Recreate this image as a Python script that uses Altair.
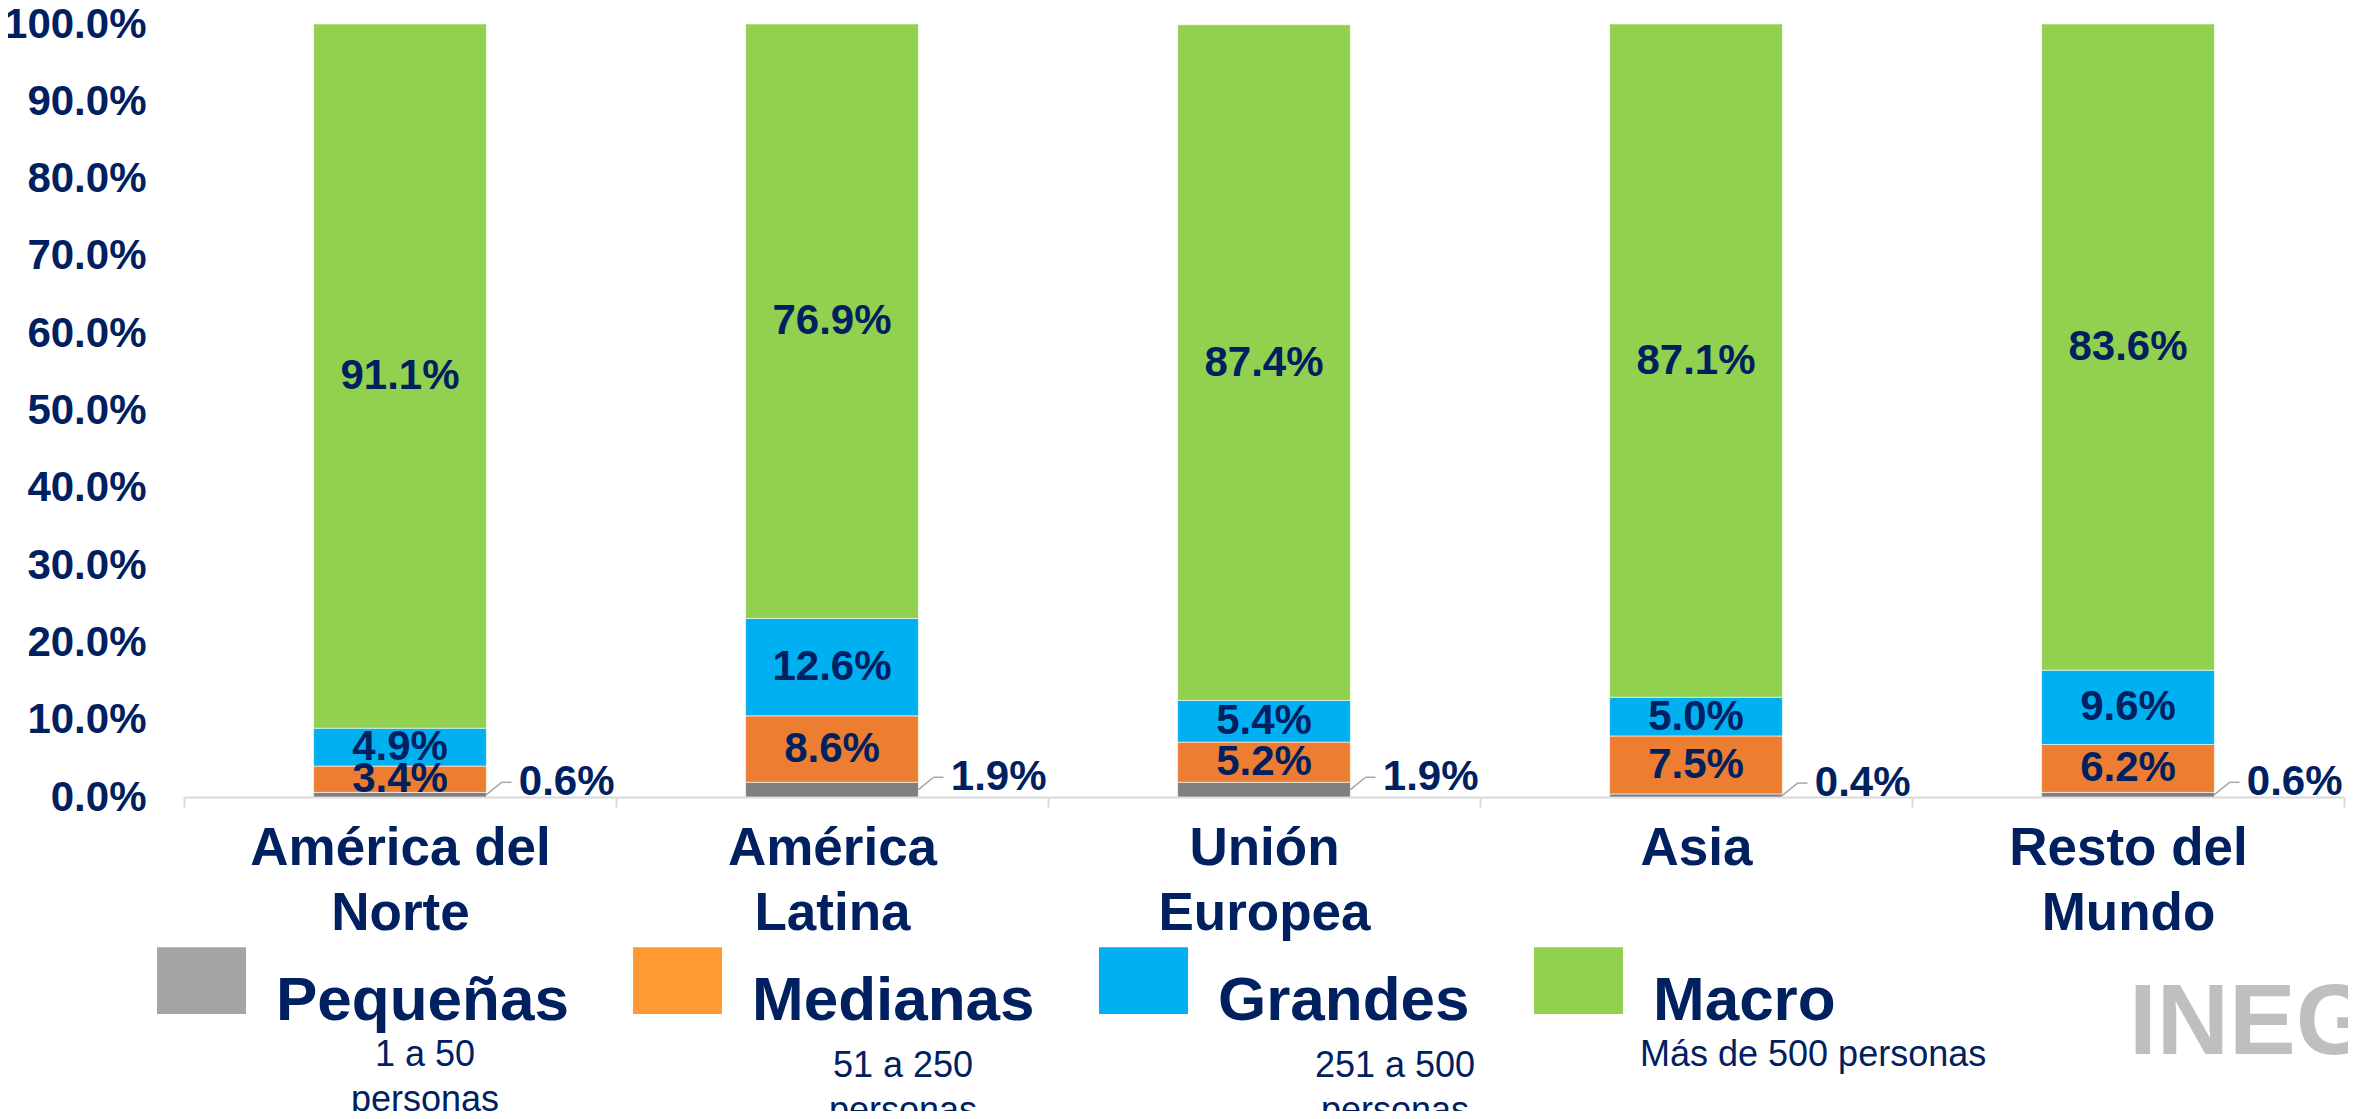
import json
import altair as alt
import pandas as pd

# ---------------- data ----------------
categories = ["América del|Norte", "América|Latina", "Unión|Europea", "Asia", "Resto del|Mundo"]
sizes = ["Pequeñas", "Medianas", "Grandes", "Macro"]
size_ranges = [["1 a 50", "personas"], ["51 a 250", "personas"], ["251 a 500", "personas"], ["Más de 500 personas"]]
pequenas = [0.6, 1.9, 1.9, 0.4, 0.6]
medianas = [3.4, 8.6, 5.2, 7.5, 6.2]
grandes = [4.9, 12.6, 5.4, 5.0, 9.6]
macro = [91.1, 76.9, 87.4, 87.1, 83.6]
y_ticks = [i / 10 for i in range(11)]
logo_text = "INEGI"

# ---------------- style ----------------
bar_colors = ["#7f7f7f", "#ed7d31", "#00b0f0", "#92d050"]
legend_colors = ["#a5a5a5", "#ff9933", "#00b0f0", "#92d050"]
NAVY = "#002060"
FONT = "Liberation Sans"
W, H = 2160, 773
band_px = W / len(categories)

rows = []
for i, cat in enumerate(categories):
    for j, (s, series) in enumerate(zip(sizes, [pequenas, medianas, grandes, macro])):
        rows.append({"cat": cat, "idx": i, "size": s, "order": j, "value": series[i] / 100})
df = pd.DataFrame(rows)

x_scale = alt.Scale(domain=[0, len(categories)], nice=False, zero=False)
y_scale = alt.Scale(domain=[0, 1], nice=False)

n = len(categories)
label_expr = (
    f"datum.value < {n} ? split({json.dumps(categories, ensure_ascii=False)}[datum.value], '|') : ''"
)

x_axis = alt.Axis(
    values=list(range(n + 1)), labelExpr=label_expr, labelOffset=band_px / 2,
    tickSize=10, tickColor="#d9d9d9", tickWidth=2, domainColor="#d9d9d9", domainWidth=2,
    grid=False, title=None, labelFont=FONT, labelFontSize=53, labelFontWeight="bold",
    labelColor=NAVY, labelLineHeight=65, labelPadding=15, labelBaseline="top",
    labelAngle=0, labelFlush=False, labelOverlap=False, labelAlign="center", labelLimit=0,
)
y_axis = alt.Axis(
    values=y_ticks, format=".1%", domain=False, ticks=False, grid=False, title=None,
    labelFont=FONT, labelFontSize=42, labelFontWeight="bold", labelColor=NAVY, labelPadding=38,
)

base = alt.Chart(df).transform_stack(
    stack="value", groupby=["idx"], as_=["y0", "y1"],
    sort=[alt.SortField("order", order="ascending")],
).transform_calculate(
    x0="datum.idx + 0.3", x1="datum.idx + 0.7", xc="datum.idx + 0.5",
    ym="(datum.y0 + datum.y1) / 2",
)

bars = base.mark_bar(stroke="white", strokeWidth=1, strokeOpacity=0.6).encode(
    x=alt.X("x0:Q", scale=x_scale, axis=x_axis),
    x2="x1:Q",
    y=alt.Y("y0:Q", scale=y_scale, axis=y_axis),
    y2="y1:Q",
    color=alt.Color("size:N", scale=alt.Scale(domain=sizes, range=bar_colors), legend=None),
)

text_props = dict(font=FONT, fontSize=42, fontWeight="bold", color=NAVY)

seg_labels = base.transform_filter("datum.order > 0").mark_text(
    align="center", baseline="middle", **text_props
).encode(
    x="xc:Q", y="ym:Q", text=alt.Text("value:Q", format=".1%"),
)

peq = base.transform_filter("datum.order == 0").transform_calculate(
    la="datum.idx + 0.7", lb="datum.idx + 0.735", lc="datum.idx + 0.758",
    lx="datum.idx + 0.775", ya="datum.y1 / 2", yb="datum.y1 / 2 + 0.016",
)
peq_text = peq.mark_text(align="left", baseline="middle", **text_props).encode(
    x="lx:Q", y="yb:Q", text=alt.Text("value:Q", format=".1%"),
)
leader_diag = peq.mark_rule(color="#a6a6a6", strokeWidth=1.5).encode(
    x="la:Q", x2="lb:Q", y="ya:Q", y2="yb:Q",
)
leader_flat = peq.mark_rule(color="#a6a6a6", strokeWidth=1.5).encode(
    x="lb:Q", x2="lc:Q", y="yb:Q",
)

legend_layer = alt.Chart(pd.DataFrame({"size": sizes})).transform_filter("false").mark_square(
    filled=True, opacity=1
).encode(
    color=alt.Color(
        "size:N",
        scale=alt.Scale(domain=sizes, range=legend_colors),
        legend=alt.Legend(
            orient="none", legendX=-27, legendY=932, direction="horizontal", title=None,
            symbolType="M-1,-1.2H1V0.3H-1Z", symbolSize=7921, symbolStrokeWidth=0,
            symbolOpacity=1,
            labelFont=FONT, labelFontSize=62, labelFontWeight="bold", labelColor=NAVY,
            labelOffset=30, columnPadding=64, padding=0, labelLimit=0,
        ),
    )
)

# sub-labels under legend entries (layout positions in plot pixels)
sub_pos = [(241, 1031, "center"), (719, 1042, "center"), (1211, 1042, "center"), (1456, 1031, "left")]
LINE_H = 45
one = alt.Data(values=[{}])
sub_layers = []
for lines, (px, py, al) in zip(size_ranges, sub_pos):
    for k, line in enumerate(lines):
        sub_layers.append(
            alt.Chart(one).mark_text(
                align=al, baseline="middle", font=FONT, fontSize=36, color=NAVY
            ).encode(x=alt.value(px), y=alt.value(py + k * LINE_H), text=alt.value(line))
        )

logo = alt.Chart(one).mark_text(
    align="left", baseline="middle", font=FONT, fontSize=100, fontWeight="bold", color="#bfbfbf"
).encode(x=alt.value(1945), y=alt.value(1000), text=alt.value(logo_text))

chart = alt.layer(
    bars, seg_labels, leader_diag, leader_flat, peq_text, legend_layer, *sub_layers, logo
).resolve_scale(color="independent").properties(
    width=W, height=H,
    autosize=alt.AutoSizeParams(type="none"),
    padding={"left": 176, "top": 16, "right": 4, "bottom": 314},
).configure_view(stroke=None)

chart.save("out.html", embed_options={"renderer": "svg", "actions": False})
